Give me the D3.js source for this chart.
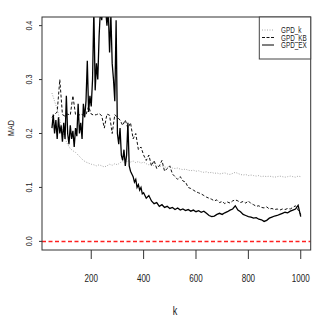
<!DOCTYPE html>
<html>
<head>
  <style>
    body { margin: 0; background: #fff; }
    text { font-family: "Liberation Sans", Arial, sans-serif; fill: #222; }
  </style>
</head>
<body>
  <script src="https://d3js.org/d3.v7.min.js"></script>
  <script>
// k grids (sampling positions)
var kCoarse = d3.range(50, 1001, 10);
var kEx = d3.range(50, 400, 5).concat(d3.range(400, 1001, 10));

// MAD values
var gpdK = [0.275,0.26,0.245,0.225,0.205,0.19,0.18,0.172,0.168,0.165,
  0.16,0.155,0.15,0.147,0.145,0.143,0.142,0.14,0.142,0.14,
  0.138,0.14,0.143,0.141,0.144,0.142,0.146,0.148,0.145,0.15,
  0.147,0.149,0.146,0.148,0.145,0.147,0.144,0.142,0.143,0.14,
  0.141,0.139,0.14,0.138,0.137,0.138,0.136,0.135,0.136,0.134,
  0.133,0.134,0.132,0.131,0.132,0.13,0.131,0.129,0.128,0.129,
  0.127,0.128,0.126,0.127,0.125,0.126,0.127,0.125,0.124,0.126,
  0.128,0.126,0.124,0.123,0.124,0.122,0.123,0.122,0.121,0.122,
  0.12,0.121,0.12,0.121,0.12,0.119,0.12,0.121,0.12,0.119,
  0.12,0.121,0.12,0.119,0.121,0.12];

var gpdKB = [0.23,0.235,0.24,0.30,0.235,0.232,0.236,0.234,0.27,0.235,
  0.233,0.236,0.234,0.235,0.25,0.236,0.234,0.235,0.237,0.233,
  0.21,0.236,0.234,0.2,0.235,0.23,0.225,0.215,0.225,0.21,
  0.22,0.19,0.2,0.17,0.175,0.16,0.15,0.16,0.14,0.15,
  0.135,0.14,0.15,0.13,0.135,0.14,0.125,0.12,0.115,0.12,
  0.112,0.11,0.1,0.098,0.095,0.092,0.09,0.088,0.085,0.082,
  0.08,0.078,0.075,0.077,0.072,0.074,0.07,0.073,0.071,0.075,
  0.077,0.075,0.072,0.074,0.071,0.075,0.07,0.068,0.065,0.066,
  0.063,0.062,0.064,0.06,0.061,0.059,0.06,0.058,0.06,0.059,
  0.061,0.06,0.063,0.066,0.058,0.05];

var gpdEX = [0.21,0.235,0.2,0.225,0.19,0.23,0.2,0.215,0.185,0.22,
  0.19,0.27,0.2,0.18,0.215,0.19,0.205,0.175,0.21,0.195,
  0.255,0.2,0.22,0.19,0.255,0.23,0.26,0.335,0.24,0.27,
  0.25,0.3,0.43,0.28,0.33,0.3,0.38,0.43,0.41,0.44,
  0.42,0.43,0.4,0.43,0.35,0.42,0.33,0.3,0.26,0.41,
  0.2,0.18,0.21,0.16,0.15,0.17,0.14,0.16,0.22,0.14,
  0.13,0.125,0.12,0.11,0.115,0.1,0.105,0.095,0.1,0.088,
  // from k = 400, step 10
  0.09,0.08,0.085,0.075,0.07,0.072,0.065,0.068,0.063,0.065,
  0.061,0.063,0.059,0.062,0.058,0.06,0.057,0.059,0.056,0.058,
  0.055,0.057,0.054,0.056,0.052,0.048,0.046,0.047,0.05,0.052,
  0.05,0.053,0.055,0.058,0.06,0.066,0.058,0.055,0.05,0.048,
  0.046,0.045,0.043,0.044,0.041,0.04,0.037,0.039,0.043,0.045,
  0.047,0.048,0.05,0.052,0.054,0.053,0.056,0.058,0.06,0.067,
  0.046];

var xTicks = [200, 400, 600, 800, 1000];
var yTicks = [0.0, 0.1, 0.2, 0.3, 0.4];
var legendNames = ["GPD_k", "GPD_KB", "GPD_EX"];

var svg = d3.select("body").append("svg")
  .attr("width", 320)
  .attr("height", 327);

// plot region (R style box)
var pLeft = 42, pRight = 310.7, pTop = 17, pBottom = 250;

var x = d3.scaleLinear().domain([12, 1038]).range([pLeft, pRight]);
var y = d3.scaleLinear().domain([-0.016, 0.416]).range([pBottom, pTop]);

svg.append("clipPath").attr("id", "plotclip")
  .append("rect")
  .attr("x", pLeft).attr("y", pTop)
  .attr("width", pRight - pLeft).attr("height", pBottom - pTop);

var plot = svg.append("g").attr("clip-path", "url(#plotclip)");

var line = d3.line()
  .x(function(d) { return x(d[0]); })
  .y(function(d) { return y(d[1]); });

// red reference line at 0
plot.append("line")
  .attr("x1", pLeft).attr("x2", pRight)
  .attr("y1", Math.round(y(0)) + 0.5).attr("y2", Math.round(y(0)) + 0.5)
  .attr("stroke", "#ff2020")
  .attr("stroke-width", 1.3)
  .attr("stroke-dasharray", "4,2.5");

plot.append("path")
  .datum(d3.zip(kCoarse, gpdK))
  .attr("d", line)
  .attr("fill", "none")
  .attr("stroke", "#a8a8a8")
  .attr("stroke-width", 1)
  .attr("stroke-dasharray", "1,1.5");

plot.append("path")
  .datum(d3.zip(kCoarse, gpdKB))
  .attr("d", line)
  .attr("fill", "none")
  .attr("stroke", "#111")
  .attr("stroke-width", 1)
  .attr("stroke-dasharray", "3,2");

plot.append("path")
  .datum(d3.zip(kEx, gpdEX))
  .attr("d", line)
  .attr("fill", "none")
  .attr("stroke", "#000")
  .attr("stroke-width", 1.3);

// frame
svg.append("rect")
  .attr("x", pLeft).attr("y", pTop)
  .attr("width", pRight - pLeft).attr("height", pBottom - pTop)
  .attr("fill", "none")
  .attr("stroke", "#333")
  .attr("stroke-width", 1);

// x axis
var xAxis = svg.append("g");
xAxis.selectAll("line")
  .data(xTicks)
  .enter().append("line")
  .attr("x1", function(d) { return x(d); })
  .attr("x2", function(d) { return x(d); })
  .attr("y1", pBottom).attr("y2", pBottom + 9)
  .attr("stroke", "#333");
xAxis.selectAll("text")
  .data(xTicks)
  .enter().append("text")
  .attr("transform", function(d) { return "translate(" + x(d) + "," + 281.5 + ") scale(0.7,1)"; })
  .attr("text-anchor", "middle")
  .attr("font-size", 11.5)
  .text(function(d) { return d; });

// y axis
var yAxis = svg.append("g");
yAxis.selectAll("line")
  .data(yTicks)
  .enter().append("line")
  .attr("x1", pLeft - 3).attr("x2", pLeft)
  .attr("y1", function(d) { return y(d); })
  .attr("y2", function(d) { return y(d); })
  .attr("stroke", "#333");
yAxis.selectAll("text")
  .data(yTicks)
  .enter().append("text")
  .attr("transform", function(d) { return "translate(32," + y(d) + ") rotate(-90) scale(0.8,1)"; })
  .attr("text-anchor", "middle")
  .attr("font-size", 9)
  .text(function(d) { return d.toFixed(1); });

// axis titles
svg.append("text")
  .attr("transform", "translate(175,315) scale(0.7,1)")
  .attr("text-anchor", "middle")
  .attr("font-size", 13)
  .text("k");

svg.append("text")
  .attr("transform", "translate(13.5,128) rotate(-90) scale(0.75,1)")
  .attr("text-anchor", "middle")
  .attr("font-size", 9.5)
  .text("MAD");

// legend
var legend = svg.append("g");
legend.append("rect")
  .attr("x", 259.3).attr("y", pTop)
  .attr("width", pRight - 259.3).attr("height", 42)
  .attr("fill", "#fff")
  .attr("stroke", "#444");

var legStyles = [
  { stroke: "#a8a8a8", dash: "1,1.5" },
  { stroke: "#111", dash: "3,1.5" },
  { stroke: "#000", dash: null }
];
legendNames.forEach(function(name, i) {
  var ly = 30 + i * 7.5;
  legend.append("line")
    .attr("x1", 262).attr("x2", 274)
    .attr("y1", ly).attr("y2", ly)
    .attr("stroke", legStyles[i].stroke)
    .attr("stroke-dasharray", legStyles[i].dash);
  legend.append("text")
    .attr("transform", "translate(281," + (ly + 3) + ") scale(0.72,1)")
    .attr("font-size", 8.8)
    .text(name);
});
  </script>
</body>
</html>
